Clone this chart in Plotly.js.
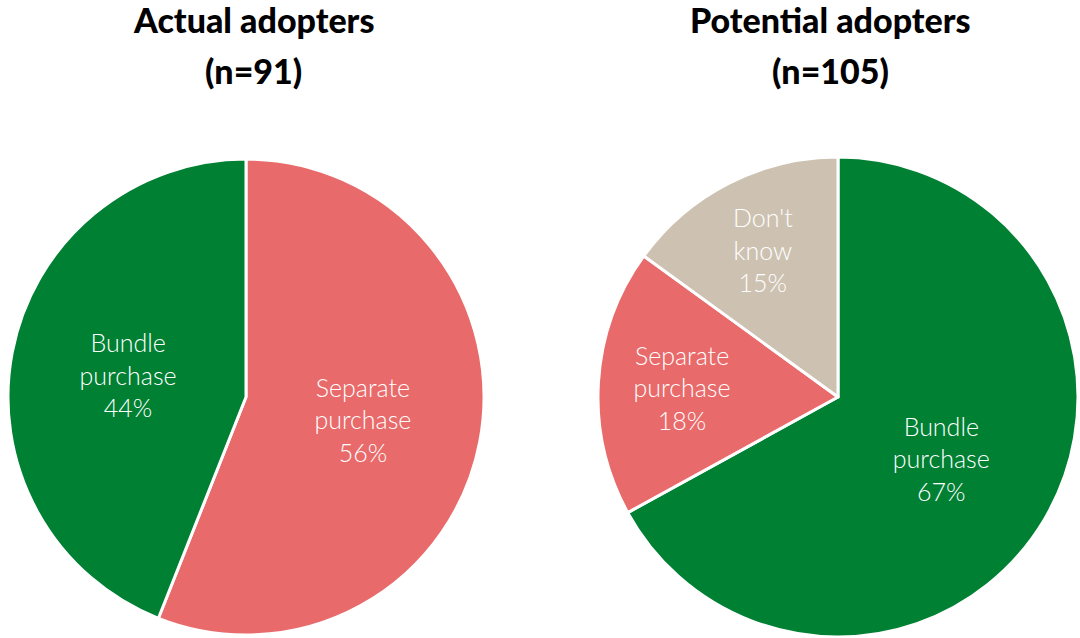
<!DOCTYPE html>
<html>
<head>
<meta charset="utf-8">
<script src="https://cdn.plot.ly/plotly-3.0.1.min.js"></script>
<style>html,body{margin:0;padding:0;background:#fff}#chart{width:1080px;height:638px}</style>
</head>
<body>
<div id="chart"></div>
<script>
const actualLabels = ["Separate purchase", "Bundle purchase"];
const actualDisplay = ["Separate<br>purchase", "Bundle<br>purchase"];
const actualValues = [56, 44];
const potentialLabels = ["Bundle purchase", "Separate purchase", "Don't know"];
const potentialDisplay = ["Bundle<br>purchase", "Separate<br>purchase", "Don't<br>know"];
const potentialValues = [67, 18, 15];
const titleLines = [["Actual adopters", "(n=91)"], ["Potential adopters", "(n=105)"]];

const colorMap = {"Bundle purchase": "#008033", "Separate purchase": "#E96A6A", "Don't know": "#CDC2B1"};
const txtFont = {family: "Lato, 'Open Sans', sans-serif", size: 25, color: "#ffffff", weight: 300};

function pieTrace(labels, display, values, xd, yd) {
  return {
    type: "pie", labels: labels, values: values, customdata: display,
    sort: false, direction: "clockwise", rotation: 0,
    marker: {colors: labels.map(l => colorMap[l]), line: {color: "#ffffff", width: 3}},
    texttemplate: "%{customdata}<br>%{value}%",
    textposition: "inside", insidetextorientation: "horizontal",
    textfont: txtFont, showlegend: false, hoverinfo: "label+percent",
    domain: {x: xd, y: yd}
  };
}

const data = [
  pieTrace(actualLabels, actualDisplay, actualValues, [8/1080, 484/1080], [1-635/638, 1-159/638]),
  pieTrace(potentialLabels, potentialDisplay, potentialValues, [598/1080, 1078/1080], [1-637/638, 1-157/638])
];

const titleFont = {family: "Lato, 'Open Sans', sans-serif", size: 34, color: "#000000", weight: 900};
const centers = [253, 830];
const rows = [20, 70];
const annotations = [];
titleLines.forEach((lines, i) => {
  lines.forEach((t, j) => {
    annotations.push({text: t, x: centers[i]/1080, y: 1-rows[j]/638, xref: "paper", yref: "paper",
      xanchor: "center", yanchor: "middle", showarrow: false, font: titleFont});
  });
});

const layout = {
  width: 1080, height: 638,
  margin: {l: 0, r: 0, t: 0, b: 0},
  paper_bgcolor: "#ffffff",
  showlegend: false,
  annotations: annotations
};
Plotly.newPlot("chart", data, layout, {displayModeBar: false, staticPlot: true});
</script>
</body>
</html>
